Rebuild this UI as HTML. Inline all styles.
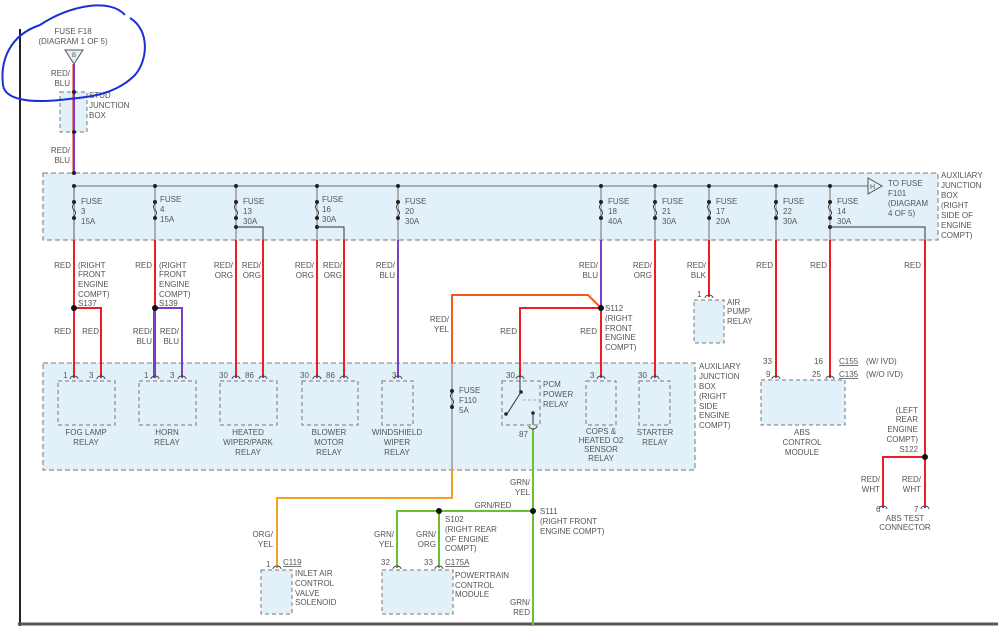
<!DOCTYPE html>
<html><head><meta charset="utf-8"><style>
html,body{margin:0;padding:0;background:#fff;}
svg{display:block}
text{font-family:"Liberation Sans",sans-serif;font-size:8px;fill:#555;}
.r{text-anchor:end}
.m{text-anchor:middle}
.box{fill:#e2f1f9;stroke:#777;stroke-dasharray:5,3;stroke-width:1}
.cmp{fill:#e2f1f9;stroke:#777;stroke-dasharray:4,3;stroke-width:1}
.g{stroke:#999;stroke-width:1.5;fill:none}
.red{stroke:#ee1c24;stroke-width:2;fill:none}
.pur{stroke:#7a3fc8;stroke-width:2;fill:none}
.grn{stroke:#6cc030;stroke-width:2;fill:none}
.org{stroke:#f3a21f;stroke-width:2;fill:none}
.ry{stroke:#f55a1a;stroke-width:2;fill:none}
.thin{stroke:#333;stroke-width:1;fill:none}
</style></head><body>
<svg width="998" height="626" viewBox="0 0 998 626" xmlns="http://www.w3.org/2000/svg">
<!-- left border line & bottom -->
<line x1="20" y1="29" x2="20" y2="626" stroke="#222" stroke-width="2"/>
<line x1="18" y1="624" x2="998" y2="624" stroke="#555" stroke-width="3"/>

<!-- top: fuse F18 -->
<text x="73" y="34" class="m">FUSE F18</text>
<text x="73" y="44" class="m">(DIAGRAM 1 OF 5)</text>
<polygon points="65,50 83,50 74,64" fill="#e2f1f9" stroke="#555"/>
<text x="74" y="57" class="m" style="font-size:6px">B</text>
<rect x="60" y="92" width="27" height="40" class="cmp"/>
<line x1="74" y1="64" x2="74" y2="173" class="pur"/>
<line x1="73" y1="64" x2="73" y2="173" stroke="#ee1c24" stroke-width="1"/>
<circle cx="74" cy="92" r="2" fill="#222"/><circle cx="74" cy="132" r="2" fill="#222"/>
<text x="70" y="76" class="r">RED/</text><text x="70" y="86" class="r">BLU</text>
<text x="70" y="153" class="r">RED/</text><text x="70" y="163" class="r">BLU</text>
<text x="89" y="98">STUD</text><text x="89" y="108">JUNCTION</text><text x="89" y="118">BOX</text>
<!-- blue hand circle -->
<path d="M40,25 C70,5 110,-2 125,15 M130,18 C150,30 148,60 135,75 C115,95 90,97 60,100 C30,103 5,100 3,85 C0,60 10,35 40,25" fill="none" stroke="#1a2fd6" stroke-width="2"/>

<!-- aux junction box top -->
<rect x="43" y="173" width="895" height="67" class="box"/>
<circle cx="74" cy="173" r="2" fill="#222"/>
<line x1="74" y1="186" x2="868" y2="186" class="g"/>
<polygon points="868,178 868,194 882,186" fill="#e2f1f9" stroke="#555"/>
<text x="870" y="189" style="font-size:7px">H</text>
<text x="888" y="186">TO FUSE</text><text x="888" y="196">F101</text><text x="888" y="206">(DIAGRAM</text><text x="888" y="216">4 OF 5)</text>
<text x="941" y="178">AUXILIARY</text><text x="941" y="188">JUNCTION</text><text x="941" y="198">BOX</text><text x="941" y="208">(RIGHT</text><text x="941" y="218">SIDE OF</text><text x="941" y="228">ENGINE</text><text x="941" y="238">COMPT)</text>

<!-- fuses -->
<g id="fuses">
<g><line x1="74" y1="186" x2="74" y2="240" class="g"/></g>
</g>
<g fill="#222">
<!-- generic fuses drawn below -->
</g>
<g>
<!-- fuse helper replicated -->
<g transform="translate(74,0)"><line x1="0" y1="186" x2="0" y2="240" class="g"/><circle cy="186" r="2" fill="#222"/><circle cy="202" r="2" fill="#222"/><circle cy="218" r="2" fill="#222"/><path d="M0,204 q-3,3 0,6 q3,3 0,6" stroke="#333" fill="#e2f1f9"/><text x="7" y="204">FUSE</text><text x="7" y="214">3</text><text x="7" y="224">15A</text></g>
<g transform="translate(155,0)"><line x1="0" y1="186" x2="0" y2="240" class="g"/><circle cy="186" r="2" fill="#222"/><circle cy="202" r="2" fill="#222"/><circle cy="218" r="2" fill="#222"/><path d="M0,204 q-3,3 0,6 q3,3 0,6" stroke="#333" fill="#e2f1f9"/><text x="5" y="202">FUSE</text><text x="5" y="212">4</text><text x="5" y="222">15A</text></g>
<g transform="translate(236,0)"><line x1="0" y1="186" x2="0" y2="240" class="g"/><circle cy="186" r="2" fill="#222"/><circle cy="202" r="2" fill="#222"/><circle cy="218" r="2" fill="#222"/><circle cy="227" r="2" fill="#222"/><path d="M0,204 q-3,3 0,6 q3,3 0,6" stroke="#333" fill="#e2f1f9"/><polyline points="0,227 27,227 27,240" class="thin"/><text x="7" y="204">FUSE</text><text x="7" y="214">13</text><text x="7" y="224">30A</text></g>
<g transform="translate(317,0)"><line x1="0" y1="186" x2="0" y2="240" class="g"/><circle cy="186" r="2" fill="#222"/><circle cy="202" r="2" fill="#222"/><circle cy="218" r="2" fill="#222"/><circle cy="227" r="2" fill="#222"/><path d="M0,204 q-3,3 0,6 q3,3 0,6" stroke="#333" fill="#e2f1f9"/><polyline points="0,227 27,227 27,240" class="thin"/><text x="5" y="202">FUSE</text><text x="5" y="212">16</text><text x="5" y="222">30A</text></g>
<g transform="translate(398,0)"><line x1="0" y1="186" x2="0" y2="240" class="g"/><circle cy="186" r="2" fill="#222"/><circle cy="202" r="2" fill="#222"/><circle cy="218" r="2" fill="#222"/><path d="M0,204 q-3,3 0,6 q3,3 0,6" stroke="#333" fill="#e2f1f9"/><text x="7" y="204">FUSE</text><text x="7" y="214">20</text><text x="7" y="224">30A</text></g>
<g transform="translate(601,0)"><line x1="0" y1="186" x2="0" y2="240" class="g"/><circle cy="186" r="2" fill="#222"/><circle cy="202" r="2" fill="#222"/><circle cy="218" r="2" fill="#222"/><path d="M0,204 q-3,3 0,6 q3,3 0,6" stroke="#333" fill="#e2f1f9"/><text x="7" y="204">FUSE</text><text x="7" y="214">18</text><text x="7" y="224">40A</text></g>
<g transform="translate(655,0)"><line x1="0" y1="186" x2="0" y2="240" class="g"/><circle cy="186" r="2" fill="#222"/><circle cy="202" r="2" fill="#222"/><circle cy="218" r="2" fill="#222"/><path d="M0,204 q-3,3 0,6 q3,3 0,6" stroke="#333" fill="#e2f1f9"/><text x="7" y="204">FUSE</text><text x="7" y="214">21</text><text x="7" y="224">30A</text></g>
<g transform="translate(709,0)"><line x1="0" y1="186" x2="0" y2="240" class="g"/><circle cy="186" r="2" fill="#222"/><circle cy="202" r="2" fill="#222"/><circle cy="218" r="2" fill="#222"/><path d="M0,204 q-3,3 0,6 q3,3 0,6" stroke="#333" fill="#e2f1f9"/><text x="7" y="204">FUSE</text><text x="7" y="214">17</text><text x="7" y="224">20A</text></g>
<g transform="translate(776,0)"><line x1="0" y1="186" x2="0" y2="240" class="g"/><circle cy="186" r="2" fill="#222"/><circle cy="202" r="2" fill="#222"/><circle cy="218" r="2" fill="#222"/><path d="M0,204 q-3,3 0,6 q3,3 0,6" stroke="#333" fill="#e2f1f9"/><text x="7" y="204">FUSE</text><text x="7" y="214">22</text><text x="7" y="224">30A</text></g>
<g transform="translate(830,0)"><line x1="0" y1="186" x2="0" y2="240" class="g"/><circle cy="186" r="2" fill="#222"/><circle cy="202" r="2" fill="#222"/><circle cy="218" r="2" fill="#222"/><circle cy="227" r="2" fill="#222"/><path d="M0,204 q-3,3 0,6 q3,3 0,6" stroke="#333" fill="#e2f1f9"/><polyline points="0,227 95,227 95,240" class="thin"/><text x="7" y="204">FUSE</text><text x="7" y="214">14</text><text x="7" y="224">30A</text></g>
</g>

<!-- lower aux box -->
<rect x="43" y="363" width="652" height="107" class="box"/>
<text x="699" y="369">AUXILIARY</text><text x="699" y="379">JUNCTION</text><text x="699" y="389">BOX</text><text x="699" y="399">(RIGHT</text><text x="699" y="409">SIDE</text><text x="699" y="418">ENGINE</text><text x="699" y="428">COMPT)</text>

<!-- relay boxes -->
<rect x="58" y="381" width="57" height="44" class="cmp"/>
<rect x="139" y="381" width="57" height="44" class="cmp"/>
<rect x="220" y="381" width="57" height="44" class="cmp"/>
<rect x="302" y="381" width="56" height="44" class="cmp"/>
<rect x="382" y="381" width="31" height="44" class="cmp"/>
<rect x="502" y="381" width="38" height="44" class="cmp"/>
<rect x="586" y="381" width="30" height="44" class="cmp"/>
<rect x="639" y="381" width="31" height="44" class="cmp"/>
<rect x="694" y="300" width="30" height="43" class="cmp"/>
<rect x="761" y="380" width="84" height="45" class="cmp"/>
<rect x="261" y="570" width="31" height="44" class="cmp"/>
<rect x="382" y="570" width="71" height="44" class="cmp"/>

<text x="86" y="435" class="m">FOG LAMP</text><text x="86" y="445" class="m">RELAY</text>
<text x="167" y="435" class="m">HORN</text><text x="167" y="445" class="m">RELAY</text>
<text x="248" y="435" class="m">HEATED</text><text x="248" y="445" class="m">WIPER/PARK</text><text x="248" y="455" class="m">RELAY</text>
<text x="329" y="435" class="m">BLOWER</text><text x="329" y="445" class="m">MOTOR</text><text x="329" y="455" class="m">RELAY</text>
<text x="397" y="435" class="m">WINDSHIELD</text><text x="397" y="445" class="m">WIPER</text><text x="397" y="455" class="m">RELAY</text>
<text x="543" y="387">PCM</text><text x="543" y="397">POWER</text><text x="543" y="407">RELAY</text>
<text x="601" y="434" class="m">COPS &amp;</text><text x="601" y="443" class="m">HEATED O2</text><text x="601" y="452" class="m">SENSOR</text><text x="601" y="461" class="m">RELAY</text>
<text x="655" y="435" class="m">STARTER</text><text x="655" y="445" class="m">RELAY</text>
<text x="727" y="305">AIR</text><text x="727" y="314">PUMP</text><text x="727" y="324">RELAY</text>
<text x="802" y="435" class="m">ABS</text><text x="802" y="445" class="m">CONTROL</text><text x="802" y="455" class="m">MODULE</text>

<!-- pin numbers -->
<g>
<text x="63" y="378">1</text><text x="89" y="378">3</text>
<text x="144" y="378">1</text><text x="170" y="378">3</text>
<text x="219" y="378">30</text><text x="245" y="378">86</text>
<text x="300" y="378">30</text><text x="326" y="378">86</text>
<text x="392" y="378">3</text>
<text x="506" y="378">30</text>
<text x="590" y="378">3</text>
<text x="638" y="378">30</text>
<text x="697" y="297">1</text>
<text x="763" y="364">33</text><text x="814" y="364">16</text>
<text x="766" y="377">9</text><text x="812" y="377">25</text>
<text x="839" y="364" style="text-decoration:underline">C155</text><text x="866" y="364">(W/ IVD)</text>
<text x="839" y="377" style="text-decoration:underline">C135</text><text x="866" y="377">(W/O IVD)</text>
<text x="519" y="437">87</text>
</g>

<!-- wires -->
<line x1="74" y1="240" x2="74" y2="378" class="red"/>
<polyline points="74,308 101,308 101,378" class="red"/>
<line x1="155" y1="240" x2="155" y2="378" class="red"/>
<polyline points="155,308 182,308 182,378" class="pur"/>
<line x1="154" y1="308" x2="154" y2="378" class="pur"/>
<line x1="236" y1="240" x2="236" y2="378" class="red"/>
<line x1="263" y1="240" x2="263" y2="378" class="red"/>
<line x1="317" y1="240" x2="317" y2="378" class="red"/>
<line x1="344" y1="240" x2="344" y2="378" class="red"/>
<line x1="398" y1="240" x2="398" y2="378" class="pur"/>
<line x1="601" y1="240" x2="601" y2="308" class="pur"/>
<line x1="601" y1="308" x2="601" y2="378" class="red"/>
<polyline points="601,308 520,308 520,378" class="red"/>
<polyline points="601,308 588,295 452,295 452,363" class="ry"/>
<line x1="655" y1="240" x2="655" y2="378" class="red"/>
<line x1="709" y1="240" x2="709" y2="297" class="red"/>
<line x1="776" y1="240" x2="776" y2="378" class="red"/>
<line x1="830" y1="240" x2="830" y2="378" class="red"/>
<line x1="925" y1="240" x2="925" y2="508" class="red"/>
<polyline points="925,457 883,457 883,508" class="red"/>
<!-- fuse F110 -->
<line x1="452" y1="363" x2="452" y2="470" class="g"/>
<circle cx="452" cy="391" r="2" fill="#222"/><circle cx="452" cy="407" r="2" fill="#222"/>
<path d="M452,393 q-3,3 0,6 q3,3 0,6" stroke="#333" fill="#e2f1f9"/>
<text x="459" y="393">FUSE</text><text x="459" y="403">F110</text><text x="459" y="413">5A</text>
<polyline points="452,470 452,498 277,498 277,568" class="org"/>
<!-- PCM relay internals -->
<line x1="520" y1="378" x2="520" y2="392" class="thin"/>
<circle cx="521" cy="392" r="1.8" fill="#222"/>
<line x1="521" y1="392" x2="507" y2="414" class="thin"/>
<circle cx="506" cy="414" r="1.8" fill="#222"/>
<line x1="523" y1="400" x2="540" y2="400" stroke="#aaa" stroke-dasharray="3,2"/>
<circle cx="533" cy="413" r="1.8" fill="#222"/>
<line x1="533" y1="413" x2="533" y2="425" class="thin"/>
<line x1="533" y1="428" x2="533" y2="626" class="grn"/>
<!-- green -->
<polyline points="533,511 397,511 397,568" class="grn"/>
<line x1="439" y1="511" x2="439" y2="568" class="grn"/>
<!-- connector arcs -->
<g fill="none" stroke="#444" stroke-width="1">
<path d="M70,379 a4,3 0 0 1 8,0"/><path d="M97,379 a4,3 0 0 1 8,0"/>
<path d="M151,379 a4,3 0 0 1 8,0"/><path d="M178,379 a4,3 0 0 1 8,0"/>
<path d="M232,379 a4,3 0 0 1 8,0"/><path d="M259,379 a4,3 0 0 1 8,0"/>
<path d="M313,379 a4,3 0 0 1 8,0"/><path d="M340,379 a4,3 0 0 1 8,0"/>
<path d="M394,379 a4,3 0 0 1 8,0"/><path d="M516,379 a4,3 0 0 1 8,0"/>
<path d="M597,379 a4,3 0 0 1 8,0"/><path d="M651,379 a4,3 0 0 1 8,0"/>
<path d="M705,298 a4,3 0 0 1 8,0"/>
<path d="M772,379 a4,3 0 0 1 8,0"/><path d="M826,379 a4,3 0 0 1 8,0"/>
<path d="M529,426 a4,3 0 0 0 8,0"/>
<path d="M273,569 a4,3 0 0 1 8,0"/><path d="M393,569 a4,3 0 0 1 8,0"/><path d="M435,569 a4,3 0 0 1 8,0"/>
<path d="M879,509 a4,3 0 0 1 8,0"/><path d="M921,509 a4,3 0 0 1 8,0"/>
</g>
<!-- splice dots -->
<g fill="#111">
<circle cx="74" cy="308" r="3"/><circle cx="155" cy="308" r="3"/><circle cx="601" cy="308" r="3"/>
<circle cx="925" cy="457" r="3"/><circle cx="533" cy="511" r="3"/><circle cx="439" cy="511" r="3"/>
</g>

<!-- wire labels -->
<text x="71" y="268" class="r">RED</text>
<text x="78" y="268">(RIGHT</text><text x="78" y="277">FRONT</text><text x="78" y="287">ENGINE</text><text x="78" y="297">COMPT)</text><text x="78" y="306">S137</text>
<text x="152" y="268" class="r">RED</text>
<text x="159" y="268">(RIGHT</text><text x="159" y="277">FRONT</text><text x="159" y="287">ENGINE</text><text x="159" y="297">COMPT)</text><text x="159" y="306">S139</text>
<text x="233" y="268" class="r">RED/</text><text x="233" y="278" class="r">ORG</text>
<text x="261" y="268" class="r">RED/</text><text x="261" y="278" class="r">ORG</text>
<text x="314" y="268" class="r">RED/</text><text x="314" y="278" class="r">ORG</text>
<text x="342" y="268" class="r">RED/</text><text x="342" y="278" class="r">ORG</text>
<text x="395" y="268" class="r">RED/</text><text x="395" y="278" class="r">BLU</text>
<text x="598" y="268" class="r">RED/</text><text x="598" y="278" class="r">BLU</text>
<text x="652" y="268" class="r">RED/</text><text x="652" y="278" class="r">ORG</text>
<text x="706" y="268" class="r">RED/</text><text x="706" y="278" class="r">BLK</text>
<text x="773" y="268" class="r">RED</text>
<text x="827" y="268" class="r">RED</text>
<text x="921" y="268" class="r">RED</text>
<text x="71" y="334" class="r">RED</text><text x="99" y="334" class="r">RED</text>
<text x="152" y="334" class="r">RED/</text><text x="152" y="344" class="r">BLU</text>
<text x="179" y="334" class="r">RED/</text><text x="179" y="344" class="r">BLU</text>
<text x="449" y="322" class="r">RED/</text><text x="449" y="332" class="r">YEL</text>
<text x="517" y="334" class="r">RED</text><text x="597" y="334" class="r">RED</text>
<text x="605" y="311">S112</text><text x="605" y="321">(RIGHT</text><text x="605" y="331">FRONT</text><text x="605" y="340">ENGINE</text><text x="605" y="350">COMPT)</text>
<text x="918" y="413" class="r">(LEFT</text><text x="918" y="422" class="r">REAR</text><text x="918" y="432" class="r">ENGINE</text><text x="918" y="442" class="r">COMPT)</text><text x="918" y="452" class="r">S122</text>
<text x="880" y="482" class="r">RED/</text><text x="880" y="492" class="r">WHT</text>
<text x="921" y="482" class="r">RED/</text><text x="921" y="492" class="r">WHT</text>
<text x="876" y="512">6</text><text x="914" y="512">7</text>
<text x="905" y="521" class="m">ABS TEST</text><text x="905" y="530" class="m">CONNECTOR</text>
<text x="530" y="485" class="r">GRN/</text><text x="530" y="495" class="r">YEL</text>
<text x="493" y="508" class="m">GRN/RED</text>
<text x="540" y="514">S111</text><text x="540" y="524">(RIGHT FRONT</text><text x="540" y="534">ENGINE COMPT)</text>
<text x="445" y="522">S102</text><text x="445" y="532">(RIGHT REAR</text><text x="445" y="542">OF ENGINE</text><text x="445" y="551">COMPT)</text>
<text x="394" y="537" class="r">GRN/</text><text x="394" y="547" class="r">YEL</text>
<text x="436" y="537" class="r">GRN/</text><text x="436" y="547" class="r">ORG</text>
<text x="273" y="537" class="r">ORG/</text><text x="273" y="547" class="r">YEL</text>
<text x="266" y="567">1</text><text x="283" y="565" style="text-decoration:underline">C119</text>
<text x="295" y="576">INLET AIR</text><text x="295" y="586">CONTROL</text><text x="295" y="596">VALVE</text><text x="295" y="605">SOLENOID</text>
<text x="381" y="565">32</text><text x="424" y="565">33</text><text x="445" y="565" style="text-decoration:underline">C175A</text>
<text x="455" y="578">POWERTRAIN</text><text x="455" y="588">CONTROL</text><text x="455" y="597">MODULE</text>
<text x="530" y="605" class="r">GRN/</text><text x="530" y="615" class="r">RED</text>
</svg>
</body></html>
